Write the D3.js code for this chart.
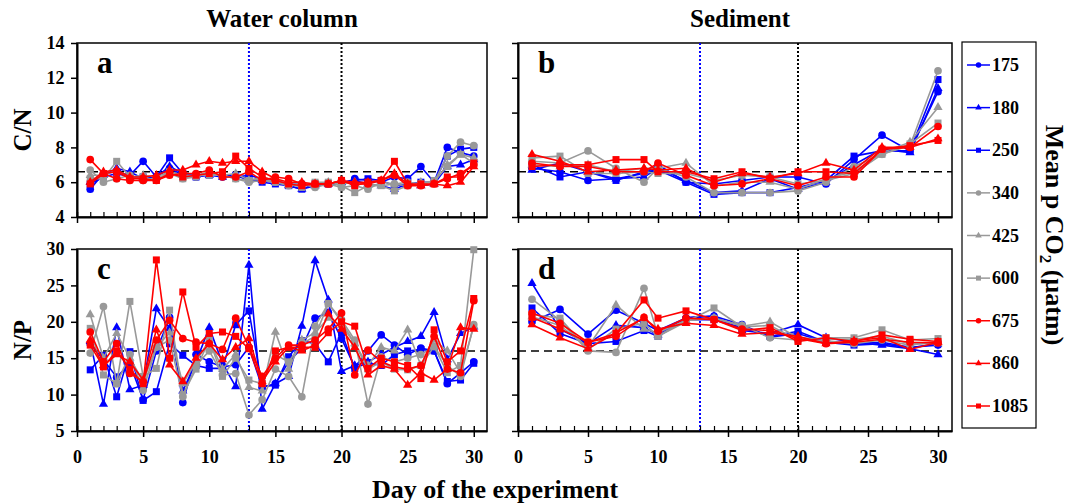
<!DOCTYPE html>
<html>
<head>
<meta charset="utf-8">
<script src="https://cdn.jsdelivr.net/npm/d3@7"></script>
<style>
  body { margin: 0; background: #fff; }
  text { font-family: "Liberation Serif", "Times New Roman", serif; font-weight: bold; }
</style>
</head>
<body>
<div id="chart"></div>
<script>
// pCO2 levels (legend)
const levels = ["175", "180", "250", "340", "425", "600", "675", "860", "1085"];
const colors = ["#0000ff", "#0000ff", "#0000ff", "#999999", "#999999", "#999999", "#ff0000", "#ff0000", "#ff0000"];
const shapes = ["circle", "triangle", "square", "circle", "triangle", "square", "circle", "triangle", "square"];

const daysWater = d3.range(1, 31);
const daysSed = [1, 3, 5, 7, 9, 10, 12, 14, 16, 18, 20, 22, 24, 26, 28, 30];

// a: C/N water column
const cnWater = [
  [5.6,6.5,6.6,6.4,7.2,6.3,6.8,6.4,6.3,6.5,6.3,6.3,6.4,6.2,6.1,5.9,5.9,5.8,5.9,5.9,6.2,6.1,6.0,6.3,6.2,6.9,6.0,8.0,7.7,7.5],
  [6.0,6.4,6.8,6.6,6.2,6.3,6.9,6.5,6.4,6.4,6.3,6.4,6.1,6.1,6.0,5.8,5.6,5.8,5.9,6.0,6.1,5.9,5.8,5.6,5.9,5.8,5.9,6.9,7.0,7.3],
  [5.9,6.3,6.5,6.3,6.3,6.3,7.4,6.5,6.3,6.4,6.4,6.4,6.2,6.0,5.9,5.8,5.6,5.9,5.9,6.0,6.1,6.2,6.1,5.8,5.9,6.0,6.0,7.5,7.9,8.0],
  [6.7,6.0,6.2,6.4,6.1,6.2,6.5,6.2,6.3,6.5,6.4,6.2,6.0,6.1,6.0,5.8,5.9,5.7,5.9,5.7,5.8,5.6,6.0,5.9,6.0,5.9,6.0,7.5,8.3,8.1],
  [6.4,6.4,6.7,6.3,6.4,6.3,6.6,6.4,6.4,6.6,6.4,6.5,6.1,6.3,6.1,5.9,5.9,5.8,6.0,5.9,6.0,5.9,5.8,5.9,5.8,6.0,6.0,7.0,7.6,7.4],
  [6.2,6.2,7.2,6.3,6.3,6.1,6.6,6.2,6.4,6.4,6.4,6.2,6.1,6.2,6.0,5.9,5.7,6.0,6.0,5.8,5.4,5.8,5.8,5.5,5.8,5.9,6.1,6.9,7.6,7.1],
  [7.3,6.5,6.2,6.1,6.1,6.1,6.4,6.5,6.5,6.7,6.3,6.3,6.6,6.1,6.3,6.2,5.9,5.9,5.9,6.1,5.9,5.9,6.1,6.4,5.8,5.8,5.9,6.2,6.5,7.0],
  [6.0,6.6,6.7,6.3,6.3,6.4,6.7,6.7,7.0,7.2,7.1,7.2,7.2,6.6,6.2,6.0,6.0,5.9,5.9,6.1,6.0,6.0,6.1,6.5,5.9,5.8,5.9,5.8,6.0,6.9],
  [5.9,6.5,6.6,6.2,6.2,6.1,6.5,6.3,6.4,6.5,6.6,7.5,6.8,6.3,6.1,5.9,5.8,5.9,5.9,6.1,5.8,6.0,6.1,7.2,5.9,5.9,5.9,6.3,6.3,7.1]
];

// b: C/N sediment
const cnSed = [
  [6.8,6.6,6.1,6.2,6.5,7.0,6.0,5.9,6.1,6.3,6.3,5.9,7.3,8.7,7.8,11.2],
  [6.7,7.1,6.6,6.2,6.3,6.8,6.1,5.4,5.5,6.2,5.6,6.0,7.0,7.9,7.7,11.4],
  [7.0,6.3,6.6,6.1,6.6,6.7,6.0,5.3,5.4,5.4,5.7,6.1,7.5,7.8,7.8,11.9],
  [7.2,7.1,7.8,6.8,6.0,6.8,6.3,5.4,5.4,5.4,5.5,6.0,6.9,7.6,8.1,12.4],
  [7.0,6.9,7.0,6.6,6.8,6.8,7.1,5.8,6.0,6.0,5.6,6.2,6.6,7.7,8.3,10.3],
  [7.4,7.5,6.5,6.5,6.6,6.5,6.5,6.1,6.4,6.3,5.9,6.1,6.5,7.6,8.2,9.4],
  [7.1,6.9,6.9,6.6,6.6,7.1,6.4,5.8,5.9,6.2,5.8,6.3,6.3,7.9,8.0,9.2],
  [7.6,7.2,6.6,6.7,6.8,6.7,6.8,6.0,6.5,6.3,6.5,7.1,6.7,8.0,8.0,8.5],
  [6.9,7.0,7.0,7.3,7.3,6.6,6.6,6.2,6.6,6.2,6.6,6.6,6.5,7.9,8.1,8.4]
];

// c: N/P water column
const npWater = [
  [17.0,14.8,12.4,14.2,9.3,16.0,20.6,8.9,15.5,14.5,13.8,14.1,16.5,11.0,11.5,14.5,16.4,20.5,21.3,17.7,13.8,16.0,18.2,16.8,15.5,16.4,16.0,11.5,13.0,14.5],
  [17.3,8.7,19.2,10.7,11.3,21.8,19.1,10.5,14.5,19.2,14.3,11.1,27.8,8.0,11.5,12.5,19.4,28.4,23.0,13.2,14.0,14.5,15.5,16.5,17.3,18.0,21.3,14.8,18.4,19.3],
  [13.4,15.4,9.7,15.9,9.2,10.4,17.0,15.4,14.0,13.6,13.6,19.6,21.5,11.1,11.3,15.2,17.4,17.0,14.5,18.5,13.6,14.4,14.0,15.5,16.0,16.2,16.0,11.8,12.0,14.3],
  [15.7,22.1,11.5,15.5,10.6,16.5,17.5,9.7,14.0,16.0,12.7,12.9,7.2,9.3,13.5,12.5,9.7,19.4,22.5,20.3,17.5,8.7,15.2,14.5,15.0,15.5,16.6,14.0,12.5,19.6],
  [21.0,15.0,18.4,15.0,11.8,16.5,18.5,11.5,14.5,17.5,13.5,15.5,11.0,10.5,18.6,13.5,17.5,18.5,20.5,19.5,17.0,14.0,16.5,16.0,18.9,14.0,17.5,16.0,13.0,19.4],
  [19.1,12.7,11.5,22.8,12.5,13.6,21.6,10.0,13.5,17.5,12.5,15.0,12.0,11.5,15.5,14.5,17.0,18.0,22.5,20.0,17.0,13.5,14.5,13.5,13.4,14.0,16.6,13.0,14.0,29.9],
  [18.6,14.5,17.0,12.9,11.8,17.5,20.2,17.7,17.2,17.0,16.2,20.5,16.5,12.5,15.0,16.8,16.8,17.5,19.0,21.2,12.7,16.1,14.5,13.8,13.5,14.0,18.0,13.5,13.0,22.9],
  [17.5,14.0,15.5,14.5,12.0,18.9,14.1,11.8,15.0,17.0,14.8,16.5,17.7,11.8,14.5,16.5,16.0,16.8,21.1,19.0,16.5,12.7,14.0,13.5,11.3,13.0,12.0,13.5,19.2,19.0],
  [16.8,13.8,16.0,13.5,11.5,28.5,15.0,24.1,16.5,18.4,18.6,18.0,16.3,11.5,16.0,16.5,16.5,16.5,18.5,20.0,19.4,13.6,15.0,14.5,14.0,12.2,18.9,14.5,16.0,23.2]
];

// d: N/P sediment
const npSed = [
  [20.0,21.7,18.3,21.6,19.8,18.8,20.5,20.8,19.6,17.9,18.4,17.2,17.0,17.2,16.5,16.8],
  [25.3,19.0,17.0,19.5,19.2,18.2,20.6,20.8,18.8,18.4,19.6,17.8,17.2,16.8,16.3,15.5],
  [21.9,18.4,17.0,17.3,18.8,18.0,20.3,20.3,19.2,18.0,18.7,17.2,16.8,17.0,16.4,17.0],
  [23.1,20.2,16.0,15.8,24.6,18.1,20.2,20.5,19.5,17.8,17.5,17.4,17.0,17.5,16.8,17.3],
  [20.7,19.5,16.5,22.3,19.0,18.5,20.2,20.5,19.4,20.0,17.8,17.6,17.6,18.0,17.0,17.0],
  [21.0,20.5,16.2,19.0,19.8,18.0,20.0,21.9,19.3,19.5,17.5,17.8,17.8,18.9,17.5,17.7],
  [21.2,19.8,17.2,18.0,20.6,18.7,20.5,20.3,19.0,18.8,17.7,17.0,17.2,17.6,17.2,17.1],
  [19.6,17.8,16.3,18.5,20.5,19.0,19.8,19.5,18.3,18.5,18.0,17.0,17.4,17.8,16.2,17.2],
  [20.6,19.0,17.2,18.4,23.0,20.5,21.5,20.3,18.8,19.2,17.3,17.8,17.3,18.2,17.6,17.3]
];

const cnTicks = [4, 6, 8, 10, 12, 14];
const npTicks = [5, 10, 15, 20, 25, 30];
const xTicks = [0, 5, 10, 15, 20, 25, 30];
const cnRef = 6.6, npRef = 16;
const vBlue = 13, vBlack = 20;

const W = 1069, H = 504;
const svg = d3.select("#chart").append("svg").attr("width", W).attr("height", H);

const cols = [{x0: 77, x1: 487}, {x0: 518, x1: 952}];
const rows = [{y0: 43, y1: 217}, {y0: 249, y1: 431}];

const panels = [
  {letter: "a", col: 0, row: 0, days: daysWater, data: cnWater, dom: [4, 14], ticks: cnTicks, ref: cnRef},
  {letter: "b", col: 1, row: 0, days: daysSed, data: cnSed, dom: [4, 14], ticks: cnTicks, ref: cnRef},
  {letter: "c", col: 0, row: 1, days: daysWater, data: npWater, dom: [5, 30], ticks: npTicks, ref: npRef},
  {letter: "d", col: 1, row: 1, days: daysSed, data: npSed, dom: [5, 30], ticks: npTicks, ref: npRef}
];

function marker(g, shape, color, size) {
  if (shape === "circle") {
    g.append("circle").attr("r", size * 0.55).attr("fill", color);
  } else if (shape === "triangle") {
    g.append("path").attr("d", d3.symbol(d3.symbolTriangle, size * size * 0.75)).attr("fill", color);
  } else {
    g.append("rect").attr("x", -size / 2).attr("y", -size / 2)
      .attr("width", size).attr("height", size).attr("fill", color);
  }
}

panels.forEach(p => {
  const c = cols[p.col], r = rows[p.row];
  const x = d3.scaleLinear().domain([0, 31]).range([c.x0, c.x1]);
  const y = d3.scaleLinear().domain(p.dom).range([r.y1, r.y0]);
  const g = svg.append("g");

  // frame
  g.append("rect").attr("x", c.x0).attr("y", r.y0)
    .attr("width", c.x1 - c.x0).attr("height", r.y1 - r.y0)
    .attr("fill", "none").attr("stroke", "#000").attr("stroke-width", 1.5);

  // reference lines
  g.append("line").attr("x1", c.x0).attr("x2", c.x1)
    .attr("y1", y(p.ref)).attr("y2", y(p.ref))
    .attr("stroke", "#000").attr("stroke-width", 1.5).attr("stroke-dasharray", "8,5");
  g.append("line").attr("x1", x(vBlue)).attr("x2", x(vBlue))
    .attr("y1", r.y0).attr("y2", r.y1)
    .attr("stroke", "#0000ff").attr("stroke-width", 2).attr("stroke-dasharray", "2,2");
  g.append("line").attr("x1", x(vBlack)).attr("x2", x(vBlack))
    .attr("y1", r.y0).attr("y2", r.y1)
    .attr("stroke", "#000").attr("stroke-width", 2).attr("stroke-dasharray", "2,2");

  // x axis: major ticks down, minor ticks up inside
  const xa = g.append("g").attr("transform", `translate(0,${r.y1})`)
    .call(d3.axisBottom(x).tickValues(xTicks).tickSize(6).tickSizeOuter(0)
      .tickFormat(p.row === 1 ? d3.format("d") : ""));
  xa.select(".domain").attr("stroke-width", 2);
  xa.selectAll(".tick line").attr("stroke-width", 1.5).attr("y1", -5);
  xa.selectAll("text").attr("font-size", 18).attr("font-family", "Liberation Serif")
    .attr("font-weight", "bold").attr("dy", "1.3em");
  g.append("g").attr("transform", `translate(0,${r.y1})`)
    .call(d3.axisTop(x).tickValues(d3.range(1, 31).filter(d => d % 5 !== 0)).tickSize(5).tickFormat(""))
    .call(s => s.select(".domain").remove())
    .selectAll(".tick line").attr("stroke-width", 1.2);

  // y axis on left panels only labelled
  const ya = g.append("g").attr("transform", `translate(${c.x0},0)`)
    .call(d3.axisLeft(y).tickValues(p.ticks).tickSize(6).tickSizeOuter(0)
      .tickFormat(p.col === 0 ? d3.format("d") : ""));
  ya.select(".domain").attr("stroke-width", 2);
  ya.selectAll(".tick line").attr("stroke-width", 1.5);
  ya.selectAll("text").attr("font-size", 18).attr("font-family", "Liberation Serif")
    .attr("font-weight", "bold").attr("dx", "-0.2em");

  // series
  p.data.forEach((vals, i) => {
    const pts = p.days.map((d, k) => [d, vals[k]]);
    g.append("path").datum(pts)
      .attr("fill", "none").attr("stroke", colors[i]).attr("stroke-width", 1.6)
      .attr("d", d3.line().x(d => x(d[0])).y(d => y(d[1])));
    pts.forEach(pt => {
      const m = g.append("g").attr("transform", `translate(${x(pt[0])},${y(pt[1])})`);
      marker(m, shapes[i], colors[i], 7);
    });
  });

  g.append("text").attr("x", c.x0 + 20).attr("y", r.y0 + 30)
    .attr("font-size", 31).text(p.letter);
});

// titles and axis labels
svg.append("text").attr("x", 282).attr("y", 27).attr("text-anchor", "middle")
  .attr("font-size", 25).text("Water column");
svg.append("text").attr("x", 740).attr("y", 27).attr("text-anchor", "middle")
  .attr("font-size", 25).text("Sediment");
svg.append("text").attr("transform", "translate(31,130) rotate(-90)").attr("text-anchor", "middle")
  .attr("font-size", 25).text("C/N");
svg.append("text").attr("transform", "translate(31,340) rotate(-90)").attr("text-anchor", "middle")
  .attr("font-size", 25).text("N/P");
svg.append("text").attr("x", 495).attr("y", 498).attr("text-anchor", "middle")
  .attr("font-size", 26).text("Day of the experiment");

// legend
const lg = svg.append("g");
lg.append("rect").attr("x", 962).attr("y", 42).attr("width", 74).attr("height", 386)
  .attr("fill", "#fff").attr("stroke", "#000").attr("stroke-width", 1.2);
const ly = d3.scalePoint().domain(levels).range([65, 406]);
levels.forEach((lv, i) => {
  const yy = ly(lv);
  lg.append("line").attr("x1", 967).attr("x2", 990).attr("y1", yy).attr("y2", yy)
    .attr("stroke", colors[i]).attr("stroke-width", 1.5);
  const m = lg.append("g").attr("transform", `translate(978.5,${yy})`);
  marker(m, shapes[i], colors[i], 5);
  lg.append("text").attr("x", 992).attr("y", yy + 6).attr("font-size", 18).text(lv);
});

const t = svg.append("text").attr("transform", "translate(1046,235) rotate(90)")
  .attr("text-anchor", "middle").attr("font-size", 26);
t.append("tspan").text("Mean p CO");
t.append("tspan").attr("font-size", 17).attr("dy", 6).text("2");
t.append("tspan").attr("dy", -6).text(" (µatm)");
</script>
</body>
</html>
